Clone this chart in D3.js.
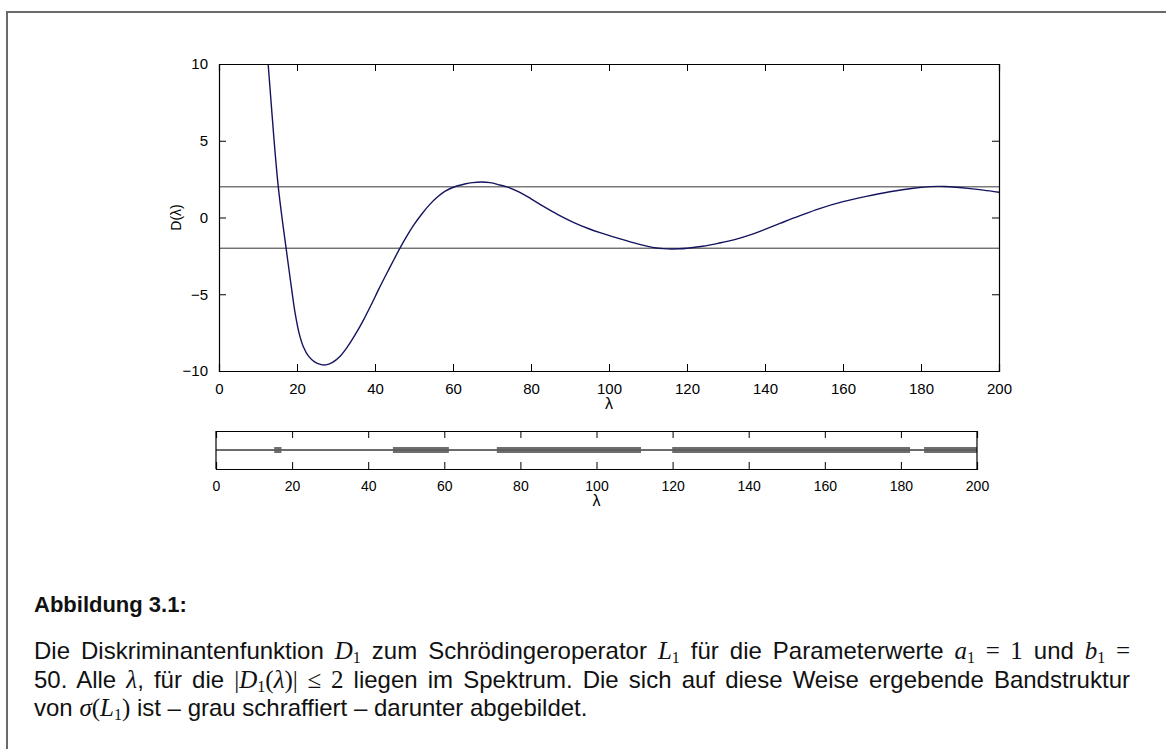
<!DOCTYPE html>
<html>
<head>
<meta charset="utf-8">
<script src="https://cdn.jsdelivr.net/npm/d3@7"></script>
<style>
  html, body { margin: 0; padding: 0; background: #fff; }
  svg { display: block; font-family: "Liberation Sans", Arial, Helvetica, sans-serif; }
</style>
</head>
<body>
<svg id="fig" width="1166" height="749"></svg>
<script>
// Discriminant D(λ), values
const LAMBDA = [12, 12.6, 13.3, 14.1, 14.6, 15.2, 16.2, 17.2, 18, 18.7, 19.5, 20.5, 21.6, 23, 24.5, 26, 27.4,
  29, 31, 33, 35, 37, 39, 41, 43, 45, 46.4, 48, 50, 52, 54, 56, 58, 61, 63, 65, 67.3, 69.5, 72, 73.8, 77, 80, 83.2,
  87, 91, 95, 97.7, 102, 106.2, 110, 111.7, 114, 116, 118, 120, 124, 128, 132, 136, 140, 144, 149, 154, 160, 166,
  172, 178, 182.4, 184.5, 186.1, 189, 192, 196, 200];
const DVAL = [11.9, 10, 7.7, 5.1, 3.6, 2, -0.1, -2, -3.5, -4.8, -6.2, -7.5, -8.4, -9.05, -9.4, -9.57, -9.6,
  -9.45, -9.05, -8.4, -7.6, -6.7, -5.7, -4.65, -3.65, -2.67, -2.0, -1.28, -0.47, 0.23, 0.84, 1.33, 1.72, 2.05, 2.18, 2.27, 2.31, 2.27, 2.12, 2.0, 1.65, 1.22, 0.72,
  0.17, -0.33, -0.75, -0.99, -1.33, -1.64, -1.88, -1.97, -2.03, -2.05, -2.04, -2.0, -1.87, -1.68, -1.46, -1.15, -0.77, -0.37, 0.12, 0.58, 1.03, 1.38,
  1.68, 1.91, 2.01, 2.03, 2.02, 1.97, 1.9, 1.78, 1.64];
const LEVELS = [2, -2];
// spectral bands where |D| <= 2
const BANDS = [[15.3, 17.2], [46.5, 61.2], [73.8, 111.7], [119.9, 182.4], [186.1, 200]];
const X_TICKS = [0, 20, 40, 60, 80, 100, 120, 140, 160, 180, 200];
const Y_TICKS = [-10, -5, 0, 5, 10];

const svg = d3.select("#fig");
svg.append("rect").attr("width", 1166).attr("height", 749).attr("fill", "#fff");

// page frame (top + left only)
svg.append("path").attr("d", "M7,749V12H1166").attr("fill", "none").attr("stroke", "#6a6a6a").attr("stroke-width", 2);

const fmt = d => d < 0 ? "\u2212" + Math.abs(d) : String(d);

// ---------- main plot ----------
const P = { l: 219, r: 999, t: 64, b: 371 };
const x = d3.scaleLinear().domain([0, 200]).range([P.l, P.r]);
const y = d3.scaleLinear().domain([-10, 10]).range([P.b, P.t]);
const TL = 7;

svg.append("clipPath").attr("id", "clip").append("rect")
  .attr("x", P.l).attr("y", P.t).attr("width", P.r - P.l).attr("height", P.b - P.t);

const g = svg.append("g");
g.append("line").attr("x1", P.l).attr("x2", P.r).attr("y1", y(LEVELS[0])).attr("y2", y(LEVELS[0]))
  .attr("stroke", "#7a7a7a").attr("stroke-width", 1.6);
g.append("line").attr("x1", P.l).attr("x2", P.r).attr("y1", y(LEVELS[1])).attr("y2", y(LEVELS[1]))
  .attr("stroke", "#333").attr("stroke-width", 1);

const line = d3.line().x((d, i) => x(LAMBDA[i])).y(d => y(d)).curve(d3.curveCatmullRom.alpha(0.5));
g.append("path").datum(DVAL).attr("d", line).attr("clip-path", "url(#clip)")
  .attr("fill", "none").attr("stroke", "#14145e").attr("stroke-width", 1.4);

// axes box with inward ticks (MATLAB style)
const axB = g.append("g").attr("transform", `translate(0,${P.b})`)
  .call(d3.axisBottom(x).tickValues(X_TICKS).tickSize(-TL).tickPadding(TL + 5).tickFormat(fmt));
const axT = g.append("g").attr("transform", `translate(0,${P.t})`)
  .call(d3.axisTop(x).tickValues(X_TICKS).tickSize(-TL).tickFormat(""));
const axL = g.append("g").attr("transform", `translate(${P.l},0)`)
  .call(d3.axisLeft(y).tickValues(Y_TICKS).tickSize(-TL).tickPadding(TL + 4).tickFormat(fmt));
const axR = g.append("g").attr("transform", `translate(${P.r},0)`)
  .call(d3.axisRight(y).tickValues(Y_TICKS).tickSize(-TL).tickFormat(""));
[axB, axT, axL, axR].forEach(a => {
  a.select(".domain").attr("stroke", "#000").attr("stroke-width", 1.2);
  a.selectAll(".tick line").attr("stroke", "#000");
  a.selectAll("text").attr("font-size", 15).attr("fill", "#000").attr("font-family", "Liberation Sans, Arial, sans-serif");
});
axB.selectAll(".tick").filter(d => d === 0 || d === 200).select("line").remove();
axT.selectAll(".tick").filter(d => d === 0 || d === 200).select("line").remove();
axL.selectAll(".tick").filter(d => d === -10 || d === 10).select("line").remove();
axR.selectAll(".tick").filter(d => d === -10 || d === 10).select("line").remove();

g.append("text").attr("x", (P.l + P.r) / 2).attr("y", 409).attr("text-anchor", "middle")
  .attr("font-size", 16).text("λ");
g.append("text").attr("transform", `translate(181,${y(0)}) rotate(-90)`).attr("text-anchor", "middle")
  .attr("font-size", 14).text("D(λ)");

// ---------- band plot ----------
const Q = { l: 216, r: 977, t: 431, b: 469 };
const xb = d3.scaleLinear().domain([0, 200]).range([Q.l, Q.r]);
const gb = svg.append("g");
const midY = (Q.t + Q.b) / 2;
gb.append("line").attr("x1", Q.l).attr("x2", Q.r).attr("y1", midY).attr("y2", midY).attr("stroke", "#000").attr("stroke-width", 1);
gb.selectAll("rect.band").data(BANDS).join("rect").attr("class", "band")
  .attr("x", d => xb(d[0])).attr("width", d => xb(d[1]) - xb(d[0]))
  .attr("y", midY - 3).attr("height", 6).attr("fill", "#6e6e6e");
gb.append("line").attr("x1", Q.l).attr("x2", Q.r).attr("y1", midY).attr("y2", midY).attr("stroke", "#333").attr("stroke-width", 0.8).attr("opacity", 0.6);

const bB = gb.append("g").attr("transform", `translate(0,${Q.b})`)
  .call(d3.axisBottom(xb).tickValues(X_TICKS).tickSize(-TL).tickPadding(TL + 5).tickFormat(fmt));
const bT = gb.append("g").attr("transform", `translate(0,${Q.t})`)
  .call(d3.axisTop(xb).tickValues(X_TICKS).tickSize(-TL).tickFormat(""));
gb.append("line").attr("x1", Q.l).attr("x2", Q.l).attr("y1", Q.t).attr("y2", Q.b).attr("stroke", "#000").attr("stroke-width", 1.2);
gb.append("line").attr("x1", Q.r).attr("x2", Q.r).attr("y1", Q.t).attr("y2", Q.b).attr("stroke", "#000").attr("stroke-width", 1.2);
[bB, bT].forEach(a => {
  a.select(".domain").attr("stroke", "#000").attr("stroke-width", 1.2);
  a.selectAll(".tick line").attr("stroke", "#000");
  a.selectAll("text").attr("font-size", 14).attr("fill", "#000").attr("font-family", "Liberation Sans, Arial, sans-serif");
  a.selectAll(".tick").filter(d => d === 0 || d === 200).select("line").remove();
});
gb.append("text").attr("x", (Q.l + Q.r) / 2).attr("y", 506).attr("text-anchor", "middle")
  .attr("font-size", 16).text("λ");

// ---------- caption ----------
const MATH = "Liberation Serif, DejaVu Serif, serif";
const CAP_L = 34, CAP_R = 1130;
svg.append("text").attr("x", CAP_L).attr("y", 612).attr("font-size", 22).attr("font-weight", "bold").attr("fill", "#111").text("Abbildung 3.1:");

// segments: [text, kind]  kind: t = text, i = math italic, m = math upright, s = subscript
const CAPTION = [
  [["Die Diskriminantenfunktion ", "t"], ["D", "i"], ["1", "s"], [" zum Schrödingeroperator ", "t"], ["L", "i"], ["1", "s"],
   [" für die Parameterwerte ", "t"], ["a", "i"], ["1", "s"], [" = 1", "m"], [" und ", "t"], ["b", "i"], ["1", "s"], [" =", "m"]],
  [["50. Alle ", "t"], ["λ", "i"], [", für die ", "t"], ["|", "m"], ["D", "i"], ["1", "s"], ["(", "m"], ["λ", "i"], [")| ≤ 2", "m"],
   [" liegen im Spektrum. Die sich auf diese Weise ergebende Bandstruktur", "t"]],
  [["von ", "t"], ["σ", "i"], ["(", "m"], ["L", "i"], ["1", "s"], [")", "m"], [" ist – grau schraffiert – darunter abgebildet.", "t"]],
];
const CAP_Y = [659, 688, 716];

CAPTION.forEach((segs, li) => {
  const t = svg.append("text").attr("x", CAP_L).attr("y", CAP_Y[li]).attr("font-size", 24).attr("fill", "#111");
  let prevSub = false;
  segs.forEach(([s, k]) => {
    const ts = t.append("tspan").text(s);
    if (k === "i") ts.attr("font-family", MATH).attr("font-style", "italic").attr("font-size", 25);
    if (k === "m") ts.attr("font-family", MATH).attr("font-size", 25);
    if (k === "s") ts.attr("font-family", MATH).attr("font-size", 16).attr("dy", 4);
    if (prevSub && k !== "s") ts.attr("dy", -4);
    prevSub = k === "s";
  });
  if (li < CAPTION.length - 1) {
    const w = t.node().getComputedTextLength();
    const spaces = segs.map(s => s[0]).join("").split(" ").length - 1;
    t.style("word-spacing", ((CAP_R - CAP_L - w) / spaces) + "px");
  }
});
</script>
</body>
</html>
